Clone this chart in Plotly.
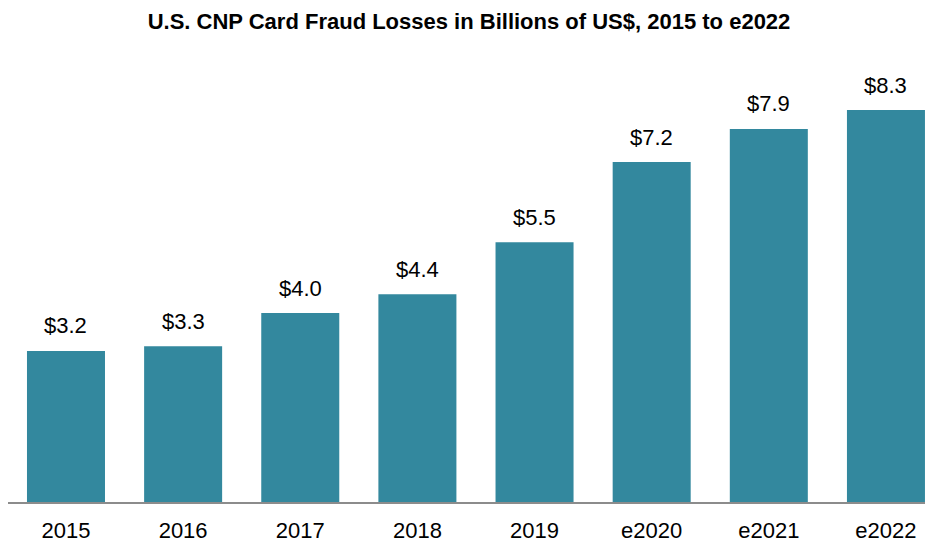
import plotly.graph_objects as go

categories = ["2015", "2016", "2017", "2018", "2019", "e2020", "e2021", "e2022"]
values = [3.2, 3.3, 4.0, 4.4, 5.5, 7.2, 7.9, 8.3]
labels = ["$%.1f" % v for v in values]

FONT = "Liberation Sans, Arial"

fig = go.Figure(go.Bar(
    x=categories, y=values,
    marker=dict(color="#33889E", line=dict(width=0)),
    width=0.666,
))
for i, (v, t) in enumerate(zip(values, labels)):
    fig.add_annotation(x=i, y=v, text=t, showarrow=False, yanchor="middle", yshift=25,
                       font=dict(family=FONT, size=22, color="#000000"))
fig.update_layout(
    width=933, height=543,
    margin=dict(l=0, r=11, t=52, b=49, autoexpand=False),
    paper_bgcolor="white", plot_bgcolor="white",
    showlegend=False,
    title=dict(text="<b>U.S. CNP Card Fraud Losses in Billions of US$, 2015 to e2022</b>",
               x=0.5, xref="paper", xanchor="center", y=0.976, yanchor="middle",
               font=dict(family=FONT, size=22, color="#000000")),
    xaxis=dict(type="category", range=[-0.495, 7.376], showgrid=False,
               showline=True, linecolor="#8C8C8C", linewidth=2,
               ticks="outside", ticklen=8, tickcolor="rgba(0,0,0,0)",
               tickfont=dict(family=FONT, size=22, color="#000000")),
    yaxis=dict(range=[0, 9.36], visible=False, showgrid=False, zeroline=False),
)
fig.write_html("out.html")
